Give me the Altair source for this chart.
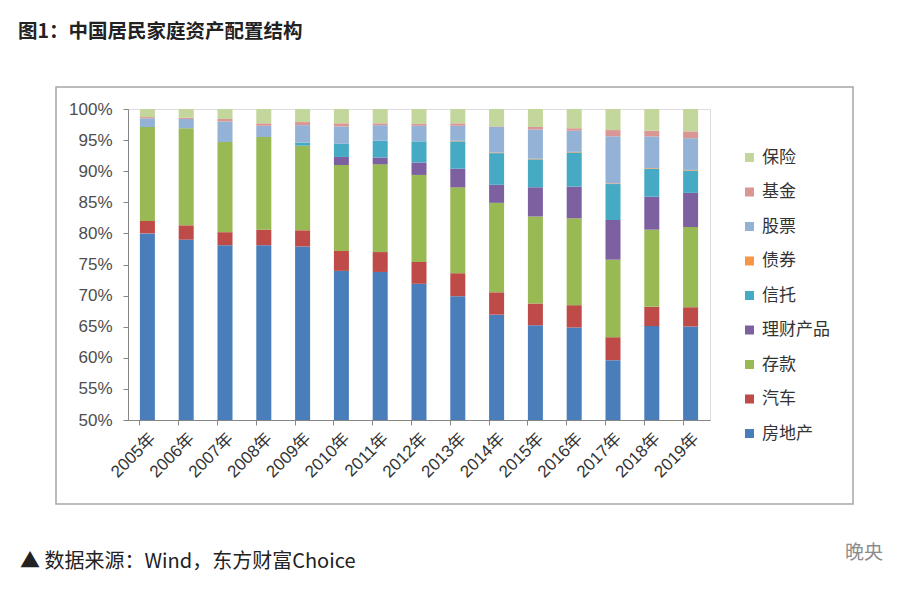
import altair as alt
import pandas as pd

years = ["2005年", "2006年", "2007年", "2008年", "2009年", "2010年", "2011年", "2012年",
         "2013年", "2014年", "2015年", "2016年", "2017年", "2018年", "2019年"]

# stacking order: bottom -> top
series = ["房地产", "汽车", "存款", "理财产品", "信托", "债券", "股票", "基金", "保险"]
colors = ["#4A7EBB", "#BE4B48", "#98B954", "#7D60A0", "#46AAC5", "#F79646", "#93B2D6", "#D99694", "#C3D69B"]

fangdichan = [80.0, 79.0, 78.1, 78.1, 77.9, 73.9, 73.8, 71.9, 69.9, 67.0, 65.3, 65.0, 59.8, 65.1, 65.1]
qiche      = [2.0, 2.3, 2.1, 2.5, 2.6, 3.2, 3.2, 3.5, 3.7, 3.6, 3.5, 3.6, 3.7, 3.1, 3.1]
cunkuan    = [15.1, 15.6, 14.5, 14.9, 13.6, 13.8, 14.1, 14.0, 13.8, 14.4, 14.0, 14.0, 12.5, 12.4, 12.9]
licai      = [0, 0, 0, 0, 0, 1.3, 1.1, 2.0, 3.0, 2.9, 4.7, 5.1, 6.4, 5.3, 5.5]
xintuo     = [0, 0, 0, 0, 0.5, 2.1, 2.7, 3.4, 4.4, 5.1, 4.5, 5.5, 5.8, 4.5, 3.6]
zhaiquan   = [0, 0, 0, 0, 0, 0, 0, 0, 0.1, 0.1, 0.1, 0.1, 0.1, 0.1, 0.1]
gupiao     = [1.4, 1.5, 3.3, 1.8, 2.8, 2.8, 2.5, 2.5, 2.4, 4.1, 4.7, 3.4, 7.6, 5.1, 5.1]
jijin      = [0.2, 0.2, 0.4, 0.4, 0.5, 0.5, 0.3, 0.3, 0.4, 0.1, 0.4, 0.4, 1.0, 0.9, 1.1]
baoxian    = [1.3, 1.4, 1.6, 2.3, 2.1, 2.3, 2.3, 2.4, 2.3, 2.8, 2.9, 3.1, 3.4, 3.5, 3.6]

values = [fangdichan, qiche, cunkuan, licai, xintuo, zhaiquan, gupiao, jijin, baoxian]
y_ticks = [0.5, 0.55, 0.6, 0.65, 0.7, 0.75, 0.8, 0.85, 0.9, 0.95, 1.0]

rows = []
for i, (name, vals) in enumerate(zip(series, values)):
    for yr, v in zip(years, vals):
        rows.append({"year": yr, "series": name, "value": v, "idx": i})
df = pd.DataFrame(rows)

legend_order = series[::-1]
legend_colors = colors[::-1]

LAT = "Liberation Sans, Noto Sans CJK SC, sans-serif"
CJK = "Noto Sans CJK SC, sans-serif"

xscale = alt.Scale(paddingInner=0.613, paddingOuter=0.3065)
yscale = alt.Scale(domain=[0.5, 1.0], nice=False)

bars = alt.Chart(df).mark_bar(clip=True).encode(
    x=alt.X("year:N", sort=years, scale=xscale,
            axis=alt.Axis(title=None, labelAngle=-45, labelFont=LAT, labelFontSize=17,
                          labelColor="#333333", ticks=False, domainColor="#868686",
                          labelPadding=10, labelOverlap=False, orient="bottom")),
    y=alt.Y("value:Q", stack="normalize", scale=yscale,
            axis=alt.Axis(title=None, format=".0%", values=y_ticks, grid=False,
                          labelFont=LAT, labelFontSize=17, labelColor="#4D4D4D",
                          labelOverlap=False,
                          domainColor="#868686", tickColor="#868686", tickSize=5,
                          labelPadding=11)),
    color=alt.Color("series:N", scale=alt.Scale(domain=legend_order, range=legend_colors),
                    legend=alt.Legend(title=None, orient="none", legendX=613, legendY=40,
                                      symbolType="square", symbolSize=81, symbolStrokeWidth=0,
                                      labelFont=CJK, labelFontSize=17, labelColor="#333333",
                                      rowPadding=16.5, labelOffset=4)),
    order=alt.Order("idx:Q", sort="ascending"),
)

tick_layer = alt.Chart(alt.Data(values=[{"year": y} for y in years])).mark_bar(opacity=0).encode(
    x=alt.X("year:N", sort=years, scale=xscale,
            axis=alt.Axis(title=None, labels=False, domain=False, bandPosition=0,
                          ticks=True, tickSize=5, tickColor="#868686", orient="bottom")),
)

one = alt.Data(values=[{}])

frame = alt.Chart(one).mark_rect(fill="transparent", stroke="#A6A6A6", strokeWidth=1.5).encode(
    x=alt.value(-72), x2=alt.value(725), y=alt.value(-22), y2=alt.value(395)
)

title = alt.Chart(one).mark_text(align="left", baseline="alphabetic", font=CJK,
                                 fontSize=19.5, fontWeight="bold", color="#222222").encode(
    x=alt.value(-110), y=alt.value(-71), text=alt.value("图1：中国居民家庭资产配置结构")
)

footer = alt.Chart(one).mark_text(align="left", baseline="alphabetic", font=CJK,
                                  fontSize=20, color="#222222").encode(
    x=alt.value(-108), y=alt.value(459), text=alt.value("▲ 数据来源：Wind，东方财富Choice")
)

mark = alt.Chart(one).mark_text(align="left", baseline="middle", font=CJK,
                                fontSize=19, color="#8C8C8C").encode(
    x=alt.value(717), y=alt.value(444), text=alt.value("晚央")
)

chart = alt.layer(frame, bars, tick_layer, title, footer, mark).resolve_axis(
    x="independent"
).properties(
    width=582, height=311,
    autosize=alt.AutoSizeParams(type="none"),
    padding={"left": 120, "top": 101, "right": 200, "bottom": 160},
).configure_view(stroke=None).configure(background="white")

chart.save("out.html", embed_options={"renderer": "svg", "actions": False})
